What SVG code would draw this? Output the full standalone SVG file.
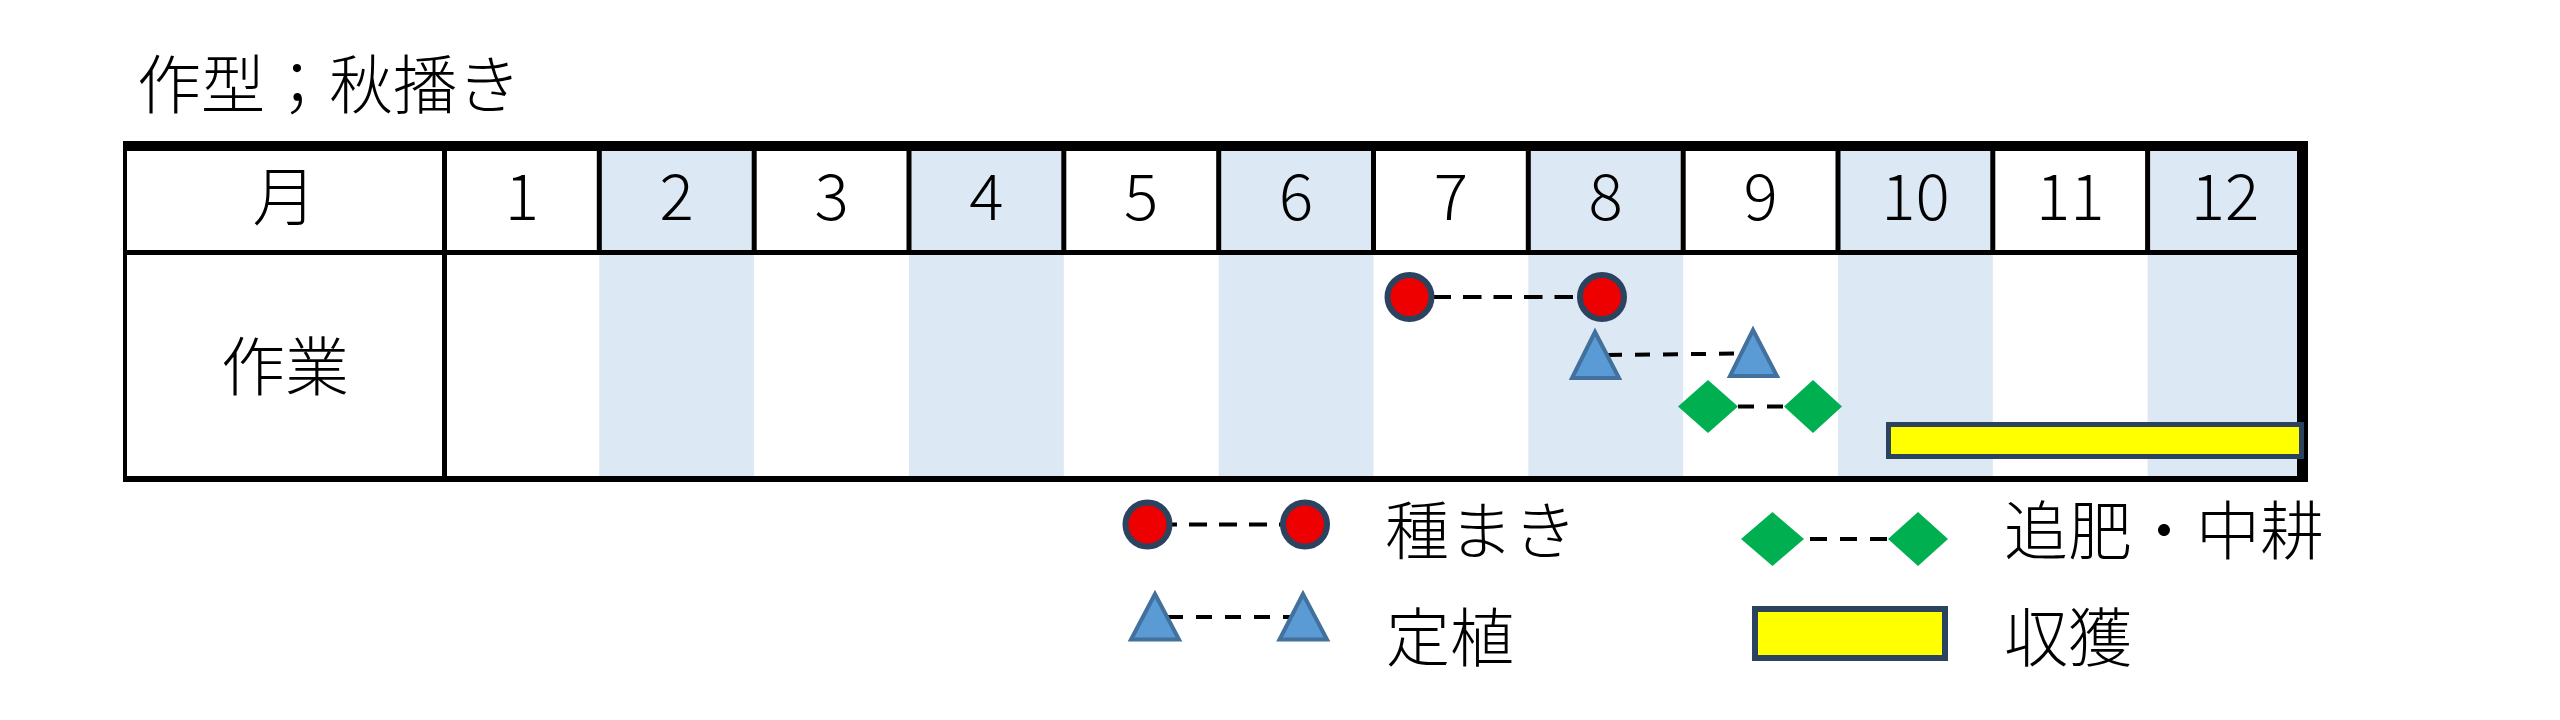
<svg xmlns="http://www.w3.org/2000/svg" width="2560" height="720" viewBox="0 0 2560 720">
<defs>
<style>
.t{font-family:"Noto Sans CJK JP","Noto Sans CJK SC",sans-serif;font-size:64px;font-weight:300;fill:#000}
.c{text-anchor:middle}
.shade{fill:#DCE8F4}
.bd{fill:#000}
.vl{fill:#000}
.circ{fill:#EE0000;stroke:#2C4360;stroke-width:6}
.tri{fill:#5B9BD5;stroke:#41719C;stroke-width:4;stroke-linejoin:miter}
.dia{fill:#00B050}
.bar{fill:#FFFF00;stroke:#2C4360;stroke-width:5}
.dash{stroke:#000;stroke-width:4;fill:none}
</style>
</defs>
<rect width="2560" height="720" fill="#fff"/>

<g id="title"><text class="t" x="137" y="108">作型；秋播き</text></g>

<g id="table">
  <g id="shading">
    <rect class="shade" x="599.3" y="151" width="154.8" height="325"/>
    <rect class="shade" x="909" y="151" width="154.8" height="325"/>
    <rect class="shade" x="1218.7" y="151" width="154.8" height="325"/>
    <rect class="shade" x="1528.3" y="151" width="154.8" height="325"/>
    <rect class="shade" x="1838" y="151" width="154.8" height="325"/>
    <rect class="shade" x="2147.6" y="151" width="154.8" height="325"/>
  </g>
  <g id="gridlines">
    <rect class="vl" x="442" y="151" width="5" height="325"/>
    <rect class="vl" x="127" y="250" width="2172" height="5"/>
    <rect class="vl" x="596.8" y="151" width="5" height="99"/>
    <rect class="vl" x="751.7" y="151" width="5" height="99"/>
    <rect class="vl" x="906.5" y="151" width="5" height="99"/>
    <rect class="vl" x="1061.3" y="151" width="5" height="99"/>
    <rect class="vl" x="1216.2" y="151" width="5" height="99"/>
    <rect class="vl" x="1371" y="151" width="5" height="99"/>
    <rect class="vl" x="1525.8" y="151" width="5" height="99"/>
    <rect class="vl" x="1680.7" y="151" width="5" height="99"/>
    <rect class="vl" x="1835.5" y="151" width="5" height="99"/>
    <rect class="vl" x="1990.3" y="151" width="5" height="99"/>
    <rect class="vl" x="2145.1" y="151" width="5" height="99"/>
  </g>
  <g id="border">
    <rect class="bd" x="123" y="141" width="2185" height="10"/>
    <rect class="bd" x="123" y="141" width="4" height="341"/>
    <rect class="bd" x="2297" y="141" width="11" height="341"/>
    <rect class="bd" x="123" y="476" width="2185" height="6"/>
  </g>
  <g id="header-labels">
    <text class="t c" x="284.5" y="220">月</text>
    <text class="t c" x="521.9" y="220">1</text>
    <text class="t c" x="676.7" y="220">2</text>
    <text class="t c" x="831.6" y="220">3</text>
    <text class="t c" x="986.4" y="220">4</text>
    <text class="t c" x="1141.2" y="220">5</text>
    <text class="t c" x="1296.1" y="220">6</text>
    <text class="t c" x="1450.9" y="220">7</text>
    <text class="t c" x="1605.7" y="220">8</text>
    <text class="t c" x="1760.6" y="220">9</text>
    <text class="t c" x="1915.4" y="220">10</text>
    <text class="t c" x="2070.2" y="220">11</text>
    <text class="t c" x="2225.1" y="220">12</text>
  </g>
  <g id="row-label"><text class="t c" x="285" y="390">作業</text></g>
</g>

<g id="connectors">
  <line class="dash" x1="1402" y1="297" x2="1600" y2="297" stroke-dasharray="18.5 12"/>
  <line class="dash" x1="1607" y1="355" x2="1742" y2="353.5" stroke-dasharray="15 13"/>
  <line class="dash" x1="1738" y1="406.5" x2="1784" y2="406.5" stroke-dasharray="16 13"/>
  <line class="dash" x1="1159" y1="524.5" x2="1297" y2="524.5" stroke-dasharray="18 12"/>
  <line class="dash" x1="1167" y1="617" x2="1290" y2="617" stroke-dasharray="16 13"/>
  <line class="dash" x1="1810" y1="539" x2="1888" y2="539" stroke-dasharray="17 13"/>
</g>

<g id="sowing-start"><circle class="circ" cx="1409.5" cy="297" r="22"/></g>
<g id="sowing-end"><circle class="circ" cx="1602" cy="297" r="22"/></g>
<g id="planting-start"><polygon class="tri" points="1595,332 1572,378 1619,378"/></g>
<g id="planting-end"><polygon class="tri" points="1753,330 1730,376 1777,376"/></g>
<g id="fertilize-start"><polygon class="dia" points="1708,380 1738,406.5 1708,433 1678,406.5"/></g>
<g id="fertilize-end"><polygon class="dia" points="1813,380 1842,406.5 1813,433 1784,406.5"/></g>
<g id="harvest"><rect class="bar" x="1888.5" y="424.5" width="413" height="32"/></g>

<g id="legend-sowing">
  <circle class="circ" cx="1147.5" cy="524.5" r="22"/>
  <circle class="circ" cx="1305" cy="524.5" r="22"/>
  <text class="t" x="1385" y="554">種まき</text>
</g>
<g id="legend-planting">
  <polygon class="tri" points="1155,594 1131,639.5 1179,639.5"/>
  <polygon class="tri" points="1303,594 1279.5,639.5 1327,639.5"/>
  <text class="t" x="1386" y="661">定植</text>
</g>
<g id="legend-fertilize">
  <polygon class="dia" points="1772.5,512 1804,539 1772.5,566 1741,539"/>
  <polygon class="dia" points="1918,512 1948,539 1918,566 1888,539"/>
  <text class="t" x="2004" y="554">追肥・中耕</text>
</g>
<g id="legend-harvest">
  <rect class="bar" x="1755" y="609" width="190" height="49" style="stroke-width:6"/>
  <text class="t" x="2004" y="661">収獲</text>
</g>
</svg>
